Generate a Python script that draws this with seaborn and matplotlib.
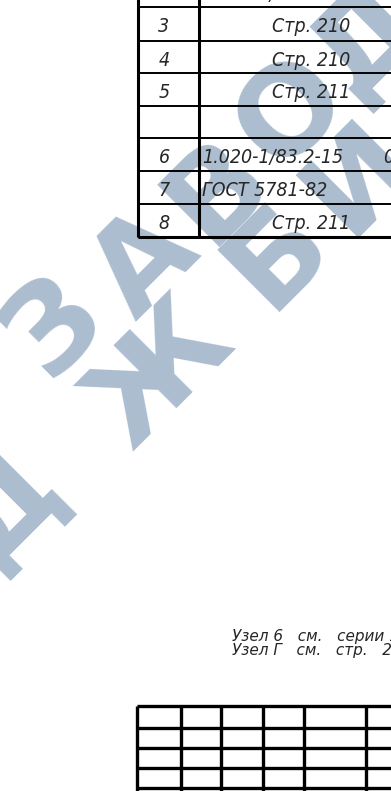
import matplotlib
matplotlib.use("Agg")
import seaborn as sns
from matplotlib import pyplot as plt

# table rows (row 2 is cut at the top of the sheet)
row_nums = ["2", "3", "4", "5", "", "6", "7", "8"]
row_refs = ["1.020-1/83.2-15", "Стр. 210", "Стр. 210", "Стр. 211", "",
            "1.020-1/83.2-15", "ГОСТ 5781-82", "Стр. 211"]
row_codes = ["02", "", "", "", "", "08", "", ""]
row_edges = [-24, 7, 41, 73, 106, 138, 171, 204, 237]

notes = ["Узел 6   см.   серии 1.020-1/83.2-15", "Узел Г   см.   стр.   211"]

# empty stamp grid at the bottom
grid_cols = [137, 181, 221, 263, 304, 366, 420]
grid_rows = [706, 728, 748, 768, 788]

sns.set_style("white")
plt.rcParams['font.family'] = ['DejaVu Sans']

fig = plt.figure(figsize=(3.91, 7.91), dpi=100)
ax = fig.add_axes([0, 0, 1, 1])
ax.set_xlim(0, 391)
ax.set_ylim(791, 0)
ax.axis("off")

# watermark, one letter at a time along two diagonals
wm = dict(color="#abbdcf", fontsize=88, fontweight="bold",
          rotation=45, rotation_mode="anchor", ha="center", va="center",
          zorder=1, clip_on=True)
for ch, (x, y) in zip("ЗАВОД", [(55, 325), (145, 265), (218, 190), (292, 112), (368, 38)]):
    ax.text(x, y, ch, **wm)
for ch, (x, y) in zip("ДЖБИ", [(5, 505), (160, 375), (278, 255), (360, 178)]):
    ax.text(x, y, ch, **wm)

# table lines
ax.vlines([138, 199], -5, 237, color="black", lw=2.2, zorder=3)
ax.hlines(row_edges[1:], 138, 391, color="black", lw=1.4, zorder=3)
ax.hlines(237, 138, 391, color="black", lw=2.2, zorder=3)

txt = dict(fontsize=14, style="italic", fontstretch="condensed", va="center", zorder=4)
for i, (n, ref, code) in enumerate(zip(row_nums, row_refs, row_codes)):
    yc = (row_edges[i] + row_edges[i + 1]) / 2 + 3
    ax.text(164, yc, n, ha="center", **txt)
    if ref.startswith("Стр"):
        ax.text(311, yc, ref, ha="center", **txt)
    else:
        ax.text(202, yc, ref, ha="left", **txt)
    if code:
        ax.text(383, yc, code, ha="left", **txt)

for k, line in enumerate(notes):
    ax.text(232, 636 + k * 15, line, fontsize=11, style="italic", ha="left",
            va="center", zorder=4)

ax.vlines(grid_cols, grid_rows[0], 791, color="black", lw=2.4, zorder=3)
ax.hlines(grid_rows, grid_cols[0], 391, color="black", lw=2.4, zorder=3)

plt.savefig("out.png", dpi=100)
